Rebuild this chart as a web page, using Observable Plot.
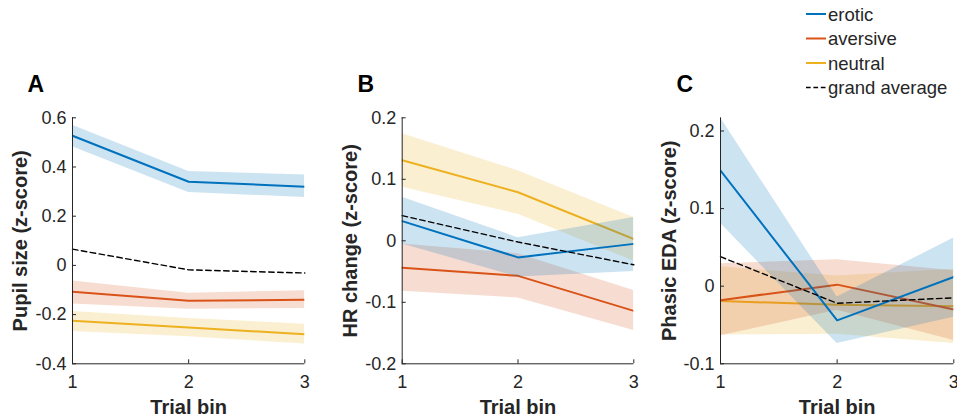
<!DOCTYPE html>
<html>
<head>
<meta charset="utf-8">
<script src="https://cdn.jsdelivr.net/npm/d3@7"></script>
<script src="https://cdn.jsdelivr.net/npm/@observablehq/plot@0.6"></script>
<style>
  html, body { margin: 0; padding: 0; background: #fff; }
  #wrap { position: relative; width: 957px; height: 419px; overflow: hidden; font-family: "Liberation Sans", Arial, sans-serif; }
  .panel { position: absolute; top: 0; }
  .panel svg { overflow: visible; }
  #legend { position: absolute; left: 0; top: 0; }
</style>
</head>
<body>
<div id="wrap"></div>
<script>
// ---------- data ----------
const bins = [1, 2, 3];
const xLabel = "Trial bin";
const legendLabels = ["erotic", "aversive", "neutral", "grand average"];
const colErotic = "#0072BD";
const colAversive = "#D95319";
const colNeutral = "#EDB120";

// Panel A: pupil size
const pupilErotic   = [0.527, 0.340, 0.320];
const pupilEroticLo = [0.482, 0.296, 0.276];
const pupilEroticHi = [0.570, 0.382, 0.367];
const pupilAversive   = [-0.107, -0.144, -0.140];
const pupilAversiveLo = [-0.157, -0.178, -0.175];
const pupilAversiveHi = [-0.063, -0.113, -0.103];
const pupilNeutral   = [-0.225, -0.252, -0.280];
const pupilNeutralLo = [-0.269, -0.290, -0.320];
const pupilNeutralHi = [-0.187, -0.216, -0.239];
const pupilGrand = [0.066, -0.018, -0.031];
const pupilTicks = [-0.4, -0.2, 0, 0.2, 0.4, 0.6];

// Panel B: heart rate change
const hrErotic   = [0.032, -0.027, -0.005];
const hrEroticLo = [-0.005, -0.059, -0.050];
const hrEroticHi = [0.071, 0.005, 0.038];
const hrAversive   = [-0.044, -0.057, -0.114];
const hrAversiveLo = [-0.082, -0.093, -0.146];
const hrAversiveHi = [-0.005, -0.021, -0.081];
const hrNeutral   = [0.131, 0.079, 0.003];
const hrNeutralLo = [0.087, 0.043, -0.033];
const hrNeutralHi = [0.174, 0.114, 0.038];
const hrGrand = [0.041, -0.002, -0.039];
const hrTicks = [-0.2, -0.1, 0, 0.1, 0.2];

// Panel C: phasic EDA
const edaErotic   = [0.149, -0.044, 0.012];
const edaEroticLo = [0.081, -0.074, -0.040];
const edaEroticHi = [0.217, -0.014, 0.062];
const edaAversive   = [-0.018, 0.002, -0.030];
const edaAversiveLo = [-0.064, -0.031, -0.070];
const edaAversiveHi = [0.029, 0.034, 0.020];
const edaNeutral   = [-0.019, -0.024, -0.026];
const edaNeutralLo = [-0.063, -0.062, -0.074];
const edaNeutralHi = [0.025, 0.013, 0.022];
const edaGrand = [0.038, -0.022, -0.015];
const edaTicks = [-0.1, 0, 0.1, 0.2];

// ---------- drawing ----------
const FONT = "'Liberation Sans', Arial, Helvetica, sans-serif";
const AXC = "#262626";

function rows(mean, lo, hi) {
  return bins.map((b, i) => ({bin: b, mean: mean[i], lo: lo ? lo[i] : null, hi: hi ? hi[i] : null}));
}

function panel(cfg) {
  const marks = [];
  for (const s of cfg.series) {
    const r = rows(s.mean, s.lo, s.hi);
    marks.push(Plot.areaY(r, {x: "bin", y1: "lo", y2: "hi", fill: s.color, fillOpacity: 0.2, clip: true}));
    marks.push(Plot.line(r, {x: "bin", y: "mean", stroke: s.color, strokeWidth: 2, clip: true}));
  }
  marks.push(Plot.line(rows(cfg.grand), {x: "bin", y: "mean", stroke: "#000", strokeWidth: 1.4, strokeDasharray: "5.5,3.5"}));
  marks.push(Plot.ruleX([bins[0]], {stroke: AXC, strokeWidth: 1}));
  marks.push(Plot.ruleY([cfg.domain[0]], {stroke: AXC, strokeWidth: 1}));
  marks.push(Plot.axisY(cfg.ticks, {tickSize: -4, tickPadding: 10, fontSize: 18, tickFormat: d => String(d), label: null, stroke: AXC, fill: AXC}));
  marks.push(Plot.axisX(bins, {tickSize: -4, tickPadding: 15, fontSize: 18, tickFormat: d => String(d), label: null, stroke: AXC, fill: AXC}));
  marks.push(Plot.text([cfg.ylabel], {frameAnchor: "left", rotate: -90, dx: cfg.labelDx, textAnchor: "middle", lineAnchor: "middle", fontSize: 20, fontWeight: "bold", fill: AXC}));
  marks.push(Plot.text([xLabel], {frameAnchor: "bottom", dy: 43.4, textAnchor: "middle", lineAnchor: "middle", fontSize: 20, fontWeight: "bold", fill: AXC}));
  marks.push(Plot.text([cfg.letter], {frameAnchor: "top-left", dx: cfg.letterDx, dy: -26, textAnchor: "start", lineAnchor: "bottom", fontSize: 23, fontWeight: "bold", fill: "#000"}));

  const svg = Plot.plot({
    width: cfg.width,
    height: 419,
    marginLeft: cfg.ml,
    marginRight: cfg.mr,
    marginTop: 117.3,
    marginBottom: 55.7,
    x: {domain: [bins[0], bins[bins.length - 1]]},
    y: {domain: cfg.domain},
    style: {fontFamily: FONT, background: "transparent", overflow: "visible"},
    marks
  });
  const div = document.createElement("div");
  div.className = "panel";
  div.style.left = cfg.left + "px";
  div.style.width = cfg.width + "px";
  div.appendChild(svg);
  document.getElementById("wrap").appendChild(div);
}

panel({
  letter: "A", ylabel: "Pupil size (z-score)", domain: [-0.4, 0.6], ticks: pupilTicks,
  left: 0, width: 320, ml: 72, mr: 15.7, labelDx: -52, letterDx: -45,
  grand: pupilGrand,
  series: [
    {color: colNeutral, mean: pupilNeutral, lo: pupilNeutralLo, hi: pupilNeutralHi},
    {color: colAversive, mean: pupilAversive, lo: pupilAversiveLo, hi: pupilAversiveHi},
    {color: colErotic, mean: pupilErotic, lo: pupilEroticLo, hi: pupilEroticHi}
  ]
});

panel({
  letter: "B", ylabel: "HR change (z-score)", domain: [-0.2, 0.2], ticks: hrTicks,
  left: 320, width: 320, ml: 81.7, mr: 6.7, labelDx: -52, letterDx: -44.7,
  grand: hrGrand,
  series: [
    {color: colNeutral, mean: hrNeutral, lo: hrNeutralLo, hi: hrNeutralHi},
    {color: colAversive, mean: hrAversive, lo: hrAversiveLo, hi: hrAversiveHi},
    {color: colErotic, mean: hrErotic, lo: hrEroticLo, hi: hrEroticHi}
  ]
});

panel({
  letter: "C", ylabel: "Phasic EDA (z-score)", domain: [-0.1, 0.217], ticks: edaTicks,
  left: 640, width: 317, ml: 80, mr: 3.7, labelDx: -51, letterDx: -44,
  grand: edaGrand,
  series: [
    {color: colNeutral, mean: edaNeutral, lo: edaNeutralLo, hi: edaNeutralHi},
    {color: colAversive, mean: edaAversive, lo: edaAversiveLo, hi: edaAversiveHi},
    {color: colErotic, mean: edaErotic, lo: edaEroticLo, hi: edaEroticHi}
  ]
});

// ---------- legend ----------
const legendColors = [colErotic, colAversive, colNeutral, "#000"];
const leg = d3.select("#wrap").append("svg")
  .attr("id", "legend").attr("width", 957).attr("height", 100)
  .style("font-family", FONT);
legendLabels.forEach((lab, i) => {
  const y = 14 + i * 24.5;
  leg.append("line")
    .attr("x1", 806).attr("x2", 826).attr("y1", y).attr("y2", y)
    .attr("stroke", legendColors[i])
    .attr("stroke-width", i === 3 ? 1.4 : 2)
    .attr("stroke-dasharray", i === 3 ? "4.7,2.7" : null);
  leg.append("text")
    .attr("x", 828).attr("y", y + 6.5)
    .attr("font-size", 18.5).attr("fill", AXC)
    .text(lab);
});
</script>
</body>
</html>
